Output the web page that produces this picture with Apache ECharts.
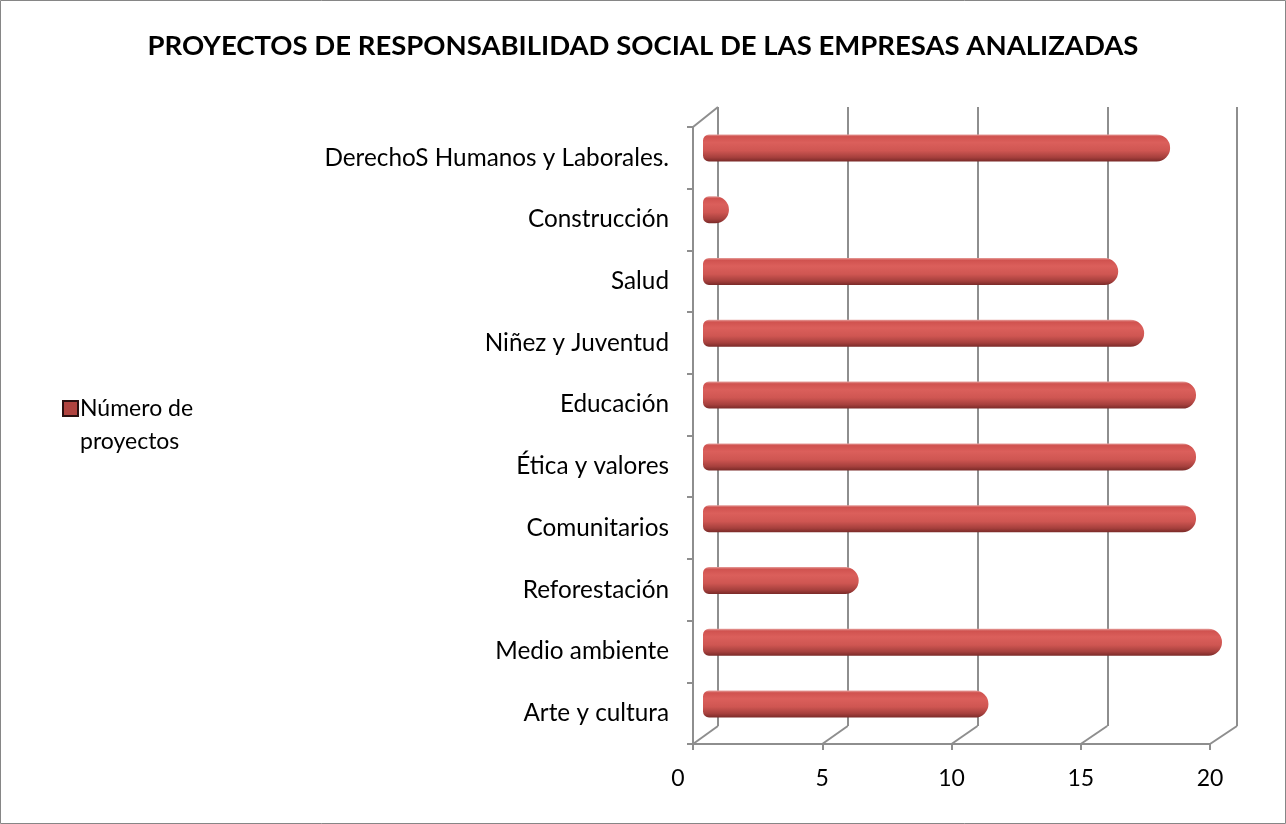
<!DOCTYPE html>
<html><head><meta charset="utf-8">
<script src="https://cdn.jsdelivr.net/npm/echarts@6/dist/echarts.min.js"></script>
<style>html,body{margin:0;padding:0;background:#fff}#c{width:1286px;height:824px}</style>
</head><body><div id="c"></div>
<script>
const titleText = 'PROYECTOS DE RESPONSABILIDAD SOCIAL DE LAS EMPRESAS ANALIZADAS';
const seriesName = 'Número de proyectos';
const categories = ['Arte y cultura', 'Medio ambiente', 'Reforestación', 'Comunitarios', 'Ética y valores', 'Educación', 'Niñez y Juventud', 'Salud', 'Construcción', 'DerechoS Humanos y Laborales.'];
const values = [11, 20, 6, 19, 19, 19, 17, 16, 1, 18];
const axisMin = 0, axisMax = 20, axisStep = 5;

const FONT = 'Lato';
const GRAY = '#8e8e8e';
const chart = echarts.init(document.getElementById('c'), null, {renderer: 'canvas'});

const option = {
  backgroundColor: '#fff',
  animation: false,
  title: {
    text: titleText, left: 'center', top: 27,
    textStyle: {fontFamily: FONT, fontSize: 27.5, fontWeight: 'bold', color: '#000'}
  },
  legend: {
    left: 57, top: 354, orient: 'vertical',
    itemWidth: 15, itemHeight: 15, itemGap: 0,
    icon: 'rect',
    formatter: n => '\n' + n.replace(' de ', ' de\n'),
    itemStyle: {color: '#b0433f', borderColor: '#2a1010', borderWidth: 2},
    textStyle: {fontFamily: FONT, fontSize: 23, color: '#000', lineHeight: 33, padding: [0, 0, 0, -3]}
  },
  grid: [
    {left: 718, right: 49, top: 107, bottom: 98},
    {left: 693, right: 76, top: 127, bottom: 80},
    {left: 703, right: 64, top: 117, bottom: 89}
  ],
  xAxis: [
    {gridIndex: 0, type: 'value', min: axisMin, max: axisMax, interval: axisStep,
     axisLine: {show: false}, axisTick: {show: false}, axisLabel: {show: false},
     splitLine: {show: true, lineStyle: {color: GRAY, width: 2}}},
    {gridIndex: 1, type: 'value', min: axisMin, max: axisMax, interval: axisStep,
     axisLine: {show: true, lineStyle: {color: GRAY, width: 2}},
     axisTick: {show: true, length: 6, lineStyle: {color: GRAY, width: 2}},
     splitLine: {show: false},
     axisLabel: {margin: 23, fontFamily: FONT, fontSize: 23, color: '#000',
       formatter: v => v === 0 ? '{z|0}' : String(v),
       rich: {z: {fontFamily: FONT, fontSize: 23, color: '#000', padding: [0, 30, 0, 0]}}}},
    {gridIndex: 2, type: 'value', min: axisMin, max: axisMax, show: false}
  ],
  yAxis: [
    {gridIndex: 0, type: 'category', data: categories, show: false},
    {gridIndex: 1, type: 'category', data: categories,
     axisLine: {show: true, lineStyle: {color: GRAY, width: 2}},
     axisTick: {show: true, length: 6, lineStyle: {color: GRAY, width: 2}},
     axisLabel: {margin: 24, fontFamily: FONT, fontSize: 24.3, color: '#000', padding: [6, 0, 0, 0]}},
    {gridIndex: 2, type: 'category', data: categories, show: false}
  ],
  series: [{
    name: seriesName, type: 'bar', xAxisIndex: 2, yAxisIndex: 2,
    data: values, barWidth: 27,
    itemStyle: {
      borderRadius: [6, 13.5, 13.5, 6],
      color: new echarts.graphic.LinearGradient(0, 0, 0, 1, [
        {offset: 0, color: '#e6a09d'},
        {offset: 0.08, color: '#d0524f'},
        {offset: 0.3, color: '#db5f5b'},
        {offset: 0.6, color: '#cf5652'},
        {offset: 0.85, color: '#a6403d'},
        {offset: 1, color: '#7a2a28'}
      ])
    }
  }]
};
chart.setOption(option);

// 3D frame lines derived from the axes' own scales
const rectOf = i => chart.getModel().getComponent('grid', i).coordinateSystem.getRect();
const back = rectOf(0), front = rectOf(1);
const lines = [];
for (let v = axisMin; v <= axisMax; v += axisStep) {
  const xf = chart.convertToPixel({xAxisIndex: 1}, v);
  const xb = chart.convertToPixel({xAxisIndex: 0}, v);
  lines.push({type: 'line', shape: {x1: xf, y1: front.y + front.height, x2: xb, y2: back.y + back.height},
    style: {stroke: GRAY, lineWidth: 2}, silent: true, z: 1});
}
lines.push({type: 'line', shape: {x1: front.x, y1: front.y, x2: back.x, y2: back.y},
  style: {stroke: GRAY, lineWidth: 2}, silent: true, z: 1});
lines.push({type: 'rect', shape: {x: 0.5, y: 0.5, width: 1285, height: 823},
  style: {fill: null, stroke: '#868686', lineWidth: 1}, silent: true, z: 0});
chart.setOption({graphic: lines});
</script></body></html>
